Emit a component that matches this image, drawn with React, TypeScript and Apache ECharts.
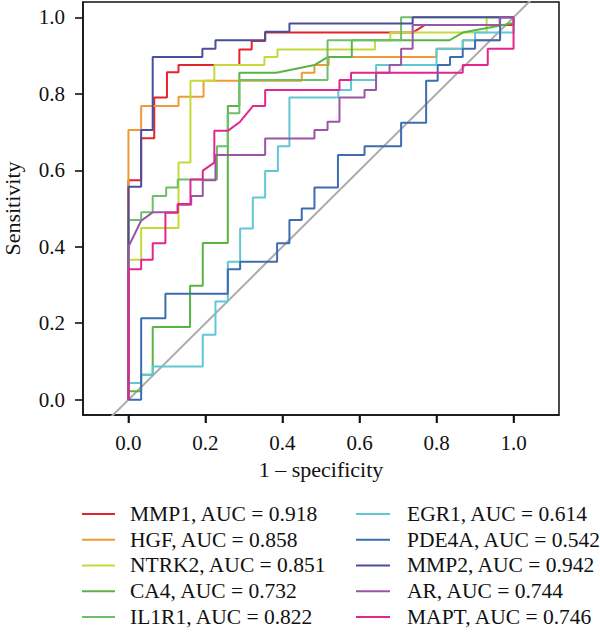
import React, { useEffect, useRef } from "react";
import * as echarts from "echarts";

// ROC curves: [1 - specificity, sensitivity] vertices
const MMP1_ROC = [[0,0],[0,0.574],[0.033,0.574],[0.033,0.684],[0.067,0.684],[0.067,0.79],[0.1,0.79],[0.1,0.856],[0.13,0.856],[0.13,0.875],[0.288,0.875],[0.288,0.916],[0.32,0.916],[0.32,0.938],[0.355,0.938],[0.355,0.96],[0.738,0.96],[0.77,0.98],[1,0.98],[1,1]];
const HGF_ROC = [[0,0],[0,0.705],[0.033,0.705],[0.033,0.768],[0.13,0.768],[0.13,0.792],[0.195,0.792],[0.195,0.834],[0.45,0.834],[0.45,0.855],[0.483,0.855],[0.483,0.875],[0.52,0.875],[0.52,0.896],[0.8,0.896],[0.8,0.918],[0.868,0.918],[0.868,0.94],[0.965,0.94],[0.965,1],[1,1]];
const NTRK2_ROC = [[0,0],[0,0.366],[0.033,0.366],[0.033,0.449],[0.13,0.449],[0.13,0.62],[0.161,0.62],[0.161,0.834],[0.223,0.834],[0.223,0.875],[0.353,0.875],[0.353,0.896],[0.387,0.896],[0.387,0.916],[0.64,0.916],[0.64,0.94],[0.68,0.94],[0.68,0.96],[0.93,0.96],[0.93,1],[1,1]];
const CA4_ROC = [[0,0],[0,0.022],[0.033,0.022],[0.033,0.065],[0.063,0.065],[0.063,0.19],[0.16,0.19],[0.16,0.298],[0.193,0.298],[0.193,0.41],[0.258,0.41],[0.258,0.768],[0.288,0.768],[0.288,0.855],[0.384,0.855],[0.483,0.875],[0.517,0.896],[0.58,0.896],[0.58,0.94],[0.834,0.94],[0.868,0.96],[1,0.985],[1,1]];
const IL1R1_ROC = [[0,0],[0,0.47],[0.033,0.47],[0.033,0.49],[0.063,0.49],[0.063,0.533],[0.098,0.533],[0.098,0.555],[0.128,0.555],[0.128,0.576],[0.23,0.576],[0.23,0.663],[0.258,0.663],[0.258,0.749],[0.288,0.749],[0.288,0.836],[0.517,0.836],[0.517,0.94],[0.708,0.94],[0.708,1],[1,1]];
const EGR1_ROC = [[0,0],[0,0.044],[0.033,0.044],[0.033,0.065],[0.063,0.065],[0.063,0.087],[0.193,0.087],[0.193,0.17],[0.226,0.17],[0.226,0.257],[0.258,0.257],[0.258,0.361],[0.29,0.361],[0.29,0.448],[0.323,0.448],[0.323,0.529],[0.355,0.529],[0.355,0.598],[0.388,0.598],[0.388,0.663],[0.418,0.663],[0.418,0.79],[0.545,0.79],[0.545,0.81],[0.578,0.81],[0.578,0.836],[0.643,0.836],[0.643,0.875],[0.8,0.875],[0.8,0.918],[0.868,0.918],[0.868,0.94],[0.9,0.94],[0.9,0.96],[1,0.96],[1,1]];
const PDE4A_ROC = [[0,0],[0.033,0],[0.033,0.213],[0.096,0.213],[0.096,0.277],[0.258,0.277],[0.258,0.341],[0.29,0.341],[0.29,0.361],[0.386,0.361],[0.386,0.409],[0.418,0.409],[0.418,0.47],[0.45,0.47],[0.45,0.5],[0.483,0.5],[0.483,0.555],[0.544,0.555],[0.544,0.64],[0.613,0.64],[0.613,0.663],[0.708,0.663],[0.708,0.724],[0.773,0.724],[0.773,0.834],[0.803,0.834],[0.803,0.875],[0.835,0.875],[0.835,0.896],[0.868,0.896],[0.868,0.918],[0.9,0.918],[0.9,0.94],[0.965,0.94],[0.965,1],[1,1]];
const MMP2_ROC = [[0,0],[0,0.557],[0.033,0.557],[0.033,0.705],[0.063,0.705],[0.063,0.896],[0.192,0.896],[0.192,0.918],[0.226,0.918],[0.226,0.94],[0.355,0.94],[0.355,0.962],[0.418,0.962],[0.418,0.984],[0.738,0.984],[0.738,1],[1,1]];
const AR_ROC = [[0,0],[0,0.4],[0.033,0.468],[0.063,0.49],[0.128,0.49],[0.128,0.51],[0.163,0.51],[0.163,0.533],[0.193,0.533],[0.193,0.574],[0.226,0.574],[0.226,0.64],[0.355,0.64],[0.355,0.683],[0.483,0.683],[0.483,0.705],[0.517,0.705],[0.517,0.727],[0.548,0.727],[0.548,0.79],[0.613,0.79],[0.613,0.81],[0.643,0.81],[0.643,0.855],[0.678,0.855],[0.678,0.875],[0.708,0.875],[0.708,0.918],[0.738,0.918],[0.738,0.98],[0.964,0.98],[0.964,1],[1,1]];
const MAPT_ROC = [[0,0],[0,0.341],[0.033,0.341],[0.033,0.366],[0.063,0.366],[0.063,0.409],[0.096,0.409],[0.096,0.489],[0.128,0.489],[0.128,0.512],[0.161,0.512],[0.161,0.576],[0.193,0.576],[0.193,0.599],[0.223,0.62],[0.223,0.703],[0.258,0.703],[0.29,0.727],[0.323,0.768],[0.355,0.768],[0.355,0.81],[0.548,0.81],[0.548,0.836],[0.578,0.836],[0.578,0.855],[0.868,0.855],[0.868,0.875],[0.933,0.875],[0.933,0.918],[1,0.918],[1,1]];

const GENES = ["MMP1", "HGF", "NTRK2", "CA4", "IL1R1", "EGR1", "PDE4A", "MMP2", "AR", "MAPT"];
const AUC = ["0.918", "0.858", "0.851", "0.732", "0.822", "0.614", "0.542", "0.942", "0.744", "0.746"];
const CURVES = [MMP1_ROC, HGF_ROC, NTRK2_ROC, CA4_ROC, IL1R1_ROC, EGR1_ROC, PDE4A_ROC, MMP2_ROC, AR_ROC, MAPT_ROC];
const COLORS = ["#E4232B", "#F09A36", "#C6D93B", "#5AB443", "#6DBF68", "#5EC8D5", "#3D6CB3", "#4A4E9D", "#9A56A4", "#E3268E"];

const TICKS = [0, 0.2, 0.4, 0.6, 0.8, 1.0];
const X_RANGE = [-0.118, 1.118];
const Y_RANGE = [-0.04, 1.04];
const FONT = "'Liberation Serif', 'DejaVu Serif', serif";
const TICK_LEN = 8;
const AXIS_COLOR = "#111";

export default function App() {
  const ref = useRef<HTMLDivElement>(null);

  useEffect(() => {
    if (!ref.current) return;
    const chart = echarts.init(ref.current, null, { renderer: "svg" });
    const aucOf: Record<string, string> = {};
    GENES.forEach((g, i) => (aucOf[g] = AUC[i]));

    const legendBase = {
      orient: "vertical" as const,
      icon: "rect",
      itemHeight: 2,
      itemGap: 0,
      padding: 0,
      selectedMode: false,
      formatter: (name: string) => `${name}, AUC = ${aucOf[name]}`,
    };

    const axisCommon = {
      type: "value" as const,
      axisLine: { show: true, onZero: false, lineStyle: { color: AXIS_COLOR, width: 1.5 } },
      splitLine: { show: false },
      axisTick: {
        show: true,
        inside: false,
        length: TICK_LEN,
        customValues: TICKS,
        lineStyle: { color: AXIS_COLOR, width: 1.6 },
      },
      axisLabel: {
        show: true,
        customValues: TICKS,
        formatter: (v: number) => v.toFixed(1),
        fontFamily: FONT,
        fontSize: 21,
        color: "#111",
      },
      nameLocation: "middle" as const,
      nameTextStyle: { fontFamily: FONT, fontSize: 22, color: "#111" },
    };

    const grid = { left: 83, right: 41, top: 2, bottom: 217 };
    const plotW = 600 - grid.left - grid.right;
    const plotH = 632 - grid.top - grid.bottom;
    // tick length expressed in data units of each axis
    const dx = (TICK_LEN * (X_RANGE[1] - X_RANGE[0])) / plotW;
    const dy = (TICK_LEN * (Y_RANGE[1] - Y_RANGE[0])) / plotH;

    // Outward tick marks drawn as short unclipped line segments
    const tickLine = (data: number[][]) => ({
      type: "line",
      data,
      showSymbol: false,
      silent: true,
      clip: false,
      z: 10,
      lineStyle: { color: AXIS_COLOR, width: 1.6 },
      itemStyle: { color: AXIS_COLOR },
    });
    const tickSeries = [
      ...TICKS.map((v) => tickLine([[v, Y_RANGE[0]], [v, Y_RANGE[0] - dy]])),
      ...TICKS.map((v) => tickLine([[X_RANGE[0], v], [X_RANGE[0] - dx, v]])),
    ];

    chart.setOption({
      animation: false,
      backgroundColor: "#fff",
      grid: {
        ...grid,
        show: true,
        borderColor: AXIS_COLOR,
        borderWidth: 1.5,
        containLabel: false,
        outerBoundsMode: "none",
      },
      xAxis: {
        ...axisCommon,
        min: X_RANGE[0],
        max: X_RANGE[1],
        name: "1 – specificity",
        nameGap: 43,
        axisLabel: { ...axisCommon.axisLabel, margin: 17 },
      },
      yAxis: {
        ...axisCommon,
        min: Y_RANGE[0],
        max: Y_RANGE[1],
        name: "Sensitivity",
        nameGap: 60,
        axisLabel: { ...axisCommon.axisLabel, margin: 18 },
      },
      legend: [
        {
          ...legendBase,
          left: 82,
          top: 501,
          itemWidth: 33,
          data: GENES.slice(0, 5),
          textStyle: { fontFamily: FONT, fontSize: 21.5, color: "#111", lineHeight: 25.75, padding: [0, 0, 0, 10] },
        },
        {
          ...legendBase,
          left: 356,
          top: 501,
          itemWidth: 34,
          data: GENES.slice(5),
          textStyle: { fontFamily: FONT, fontSize: 21.5, color: "#111", lineHeight: 25.75, padding: [0, 0, 0, 12] },
        },
      ],
      series: [
        {
          name: "identity",
          type: "line",
          data: [[-0.2, -0.2], [1.2, 1.2]],
          showSymbol: false,
          silent: true,
          lineStyle: { color: "#ABABAB", width: 2 },
          itemStyle: { color: "#ABABAB" },
          z: 1,
        },
        ...GENES.map((g, i) => ({
          name: g,
          type: "line",
          data: CURVES[i],
          showSymbol: false,
          silent: true,
          lineStyle: { color: COLORS[i], width: 2 },
          itemStyle: { color: COLORS[i] },
          z: 2,
        })),
        ...tickSeries,
      ],
    });

    return () => chart.dispose();
  }, []);

  return (
    <div
      ref={ref}
      style={{ position: "fixed", left: 0, top: 0, width: 600, height: 632, background: "#fff" }}
    />
  );
}
